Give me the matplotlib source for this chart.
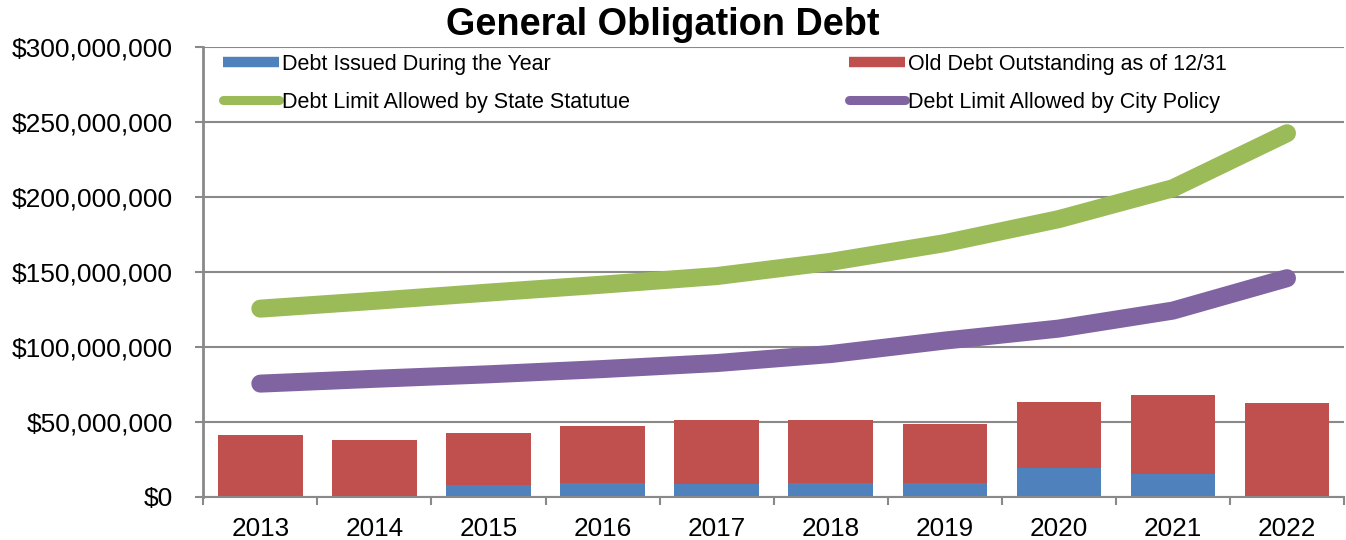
import numpy as np
import matplotlib
matplotlib.use("Agg")
import matplotlib.pyplot as plt
from matplotlib.lines import Line2D
from matplotlib.ticker import FuncFormatter

plt.rcParams['font.family'] = ['Liberation Sans', 'DejaVu Sans']

## data (dollars)
years = ['2013', '2014', '2015', '2016', '2017', '2018', '2019', '2020', '2021', '2022']
debt_issued = [0, 0, 7.9e6, 9.0e6, 8.3e6, 8.7e6, 9.1e6, 19.0e6, 15.0e6, 0]
old_debt = [41.2e6, 37.5e6, 34.3e6, 38.3e6, 43.0e6, 42.1e6, 39.1e6, 44.2e6, 52.8e6, 62.3e6]
state_limit = [125.3e6, 130.5e6, 136.0e6, 141.3e6, 147.0e6, 156.5e6, 169.0e6, 185.0e6, 205.6e6, 242.3e6]
city_limit = [75.3e6, 78.5e6, 81.5e6, 85.0e6, 89.0e6, 95.0e6, 104.0e6, 112.0e6, 124.0e6, 145.6e6]

blue = '#4F81BD'
red = '#C0504D'
green = '#9BBB59'
purple = '#8064A2'
grid_gray = '#898989'

fig = plt.figure(figsize=(13.46, 5.40), dpi=100)
ax = fig.add_axes([203.3 / 1346, 1 - 496.5 / 540, (1344 - 203.3) / 1346, (496.5 - 46.7) / 540])

x = np.arange(len(years))
ax.bar(x, debt_issued, width=0.74, color=blue, zorder=2)
ax.bar(x, old_debt, width=0.74, bottom=debt_issued, color=red, zorder=2)
ax.plot(x, state_limit, color=green, lw=13, solid_capstyle='round', solid_joinstyle='round', zorder=3)
ax.plot(x, city_limit, color=purple, lw=13, solid_capstyle='round', solid_joinstyle='round', zorder=3)

ax.set_xlim(-0.5, len(years) - 0.5)
ax.set_ylim(0, 300e6)
ax.set_yticks(np.arange(0, 300e6 + 1, 50e6))
ax.yaxis.set_major_formatter(FuncFormatter(lambda v, p: '${:,.0f}'.format(v)))
ax.yaxis.grid(True, color=grid_gray, lw=1.5, zorder=0)
ax.set_axisbelow(True)

# year labels in the middle, tick marks on the category borders
ax.set_xticks(x)
ax.set_xticklabels(years)
ax.set_xticks(np.arange(-0.5, len(years)), minor=True)
ax.tick_params(axis='x', which='major', length=0, pad=15, labelsize=18.8)
ax.tick_params(axis='x', which='minor', length=6, width=1.5, color=grid_gray, direction='out')
ax.tick_params(axis='y', length=6, width=1.5, color=grid_gray, pad=16, labelsize=19)

for s in ['top', 'right']:
    ax.spines[s].set_visible(False)
ax.spines['left'].set_color(grid_gray)
ax.spines['left'].set_linewidth(2)
ax.spines['bottom'].set_color(grid_gray)
ax.spines['bottom'].set_linewidth(1.5)

fig.text(0.4925, 0.954, 'General Obligation Debt', ha='center', va='center',
         fontsize=27.3, fontweight='bold')

handles = [
    Line2D([], [], color=blue, lw=7.5, solid_capstyle='butt'),
    Line2D([], [], color=green, lw=6.5, solid_capstyle='round'),
    Line2D([], [], color=red, lw=7.5, solid_capstyle='butt'),
    Line2D([], [], color=purple, lw=6.5, solid_capstyle='round'),
]
labels = ['Debt Issued During the Year', 'Debt Limit Allowed by State Statutue',
          'Old Debt Outstanding as of 12/31', 'Debt Limit Allowed by City Policy']
ax.legend(handles, labels, ncol=2, loc='upper left', bbox_to_anchor=(223 / 1346, 1 - 54 / 540),
          bbox_transform=fig.transFigure, frameon=False, fontsize=15.5, handlelength=2.6,
          handletextpad=0.15, columnspacing=10.15, labelspacing=0.78, borderpad=0, borderaxespad=0)

fig.savefig('out.png', dpi=100)
